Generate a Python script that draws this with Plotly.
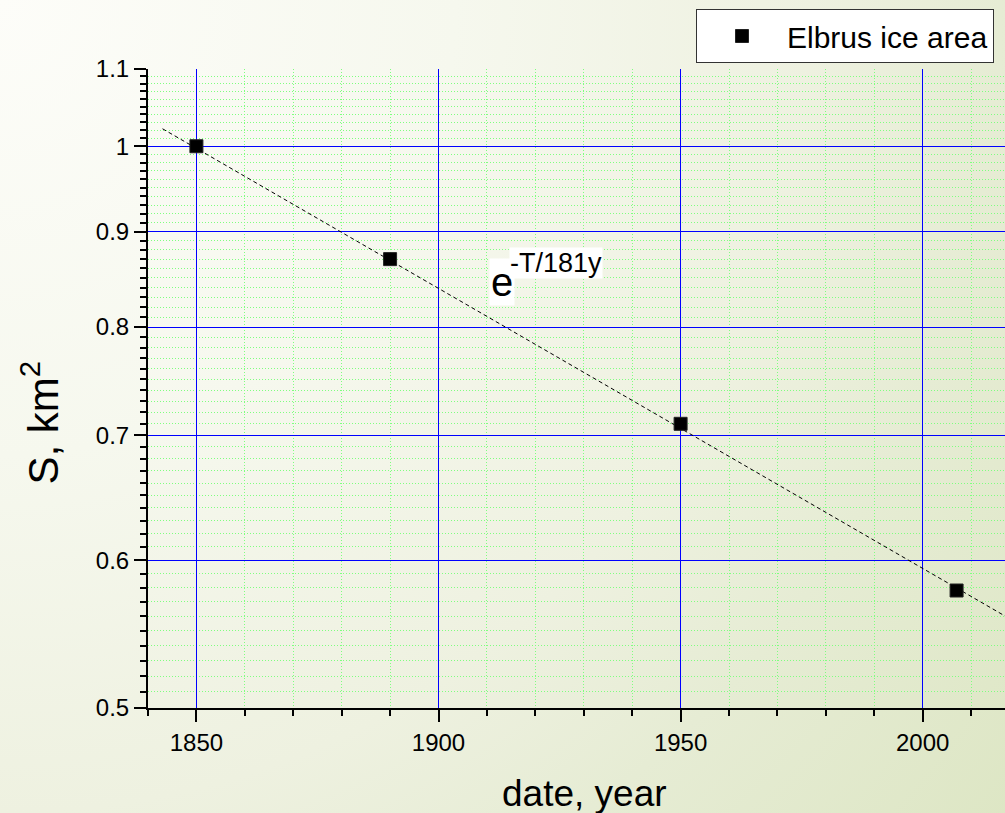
import base64
import plotly.graph_objects as go

# ---- data ----
years = [1850, 1890, 1950, 2007]
ice_area = [1.0, 0.87, 0.71, 0.578]
fit_years = [1843, 2017]
fit_area = [1.0218, 0.5601]
y_tick_vals = [0.5, 0.6, 0.7, 0.8, 0.9, 1.0, 1.1]
y_tick_text = ["0.5", "0.6", "0.7", "0.8", "0.9", "1", "1.1"]
x_tick_vals = [1850, 1900, 1950, 2000]
x_tick_text = ["1850", "1900", "1950", "2000"]
x_range = [1840, 2017]
y_range = [0.5, 1.1]

FONT = "Liberation Sans, Arial, sans-serif"
W, H = 1005, 813
L, R, T, B = 148, 0, 69, 105
pw, ph = W - L - R, H - T - B

def px(xp):
    return (xp - L) / pw

def py(yp):
    return (H - B - yp) / ph

svg = (
    f'<svg xmlns="http://www.w3.org/2000/svg" width="{W}" height="{H}">'
    '<defs><radialGradient id="g" cx="0" cy="0" r="1300" gradientUnits="userSpaceOnUse">'
    '<stop offset="0" stop-color="#fdfdf9"/>'
    '<stop offset="0.35" stop-color="#f6f8ee"/>'
    '<stop offset="0.625" stop-color="#eef1e0"/>'
    '<stop offset="0.77" stop-color="#e6ecd4"/>'
    '<stop offset="1" stop-color="#dde6c4"/>'
    '</radialGradient></defs>'
    f'<rect width="{W}" height="{H}" fill="url(#g)"/></svg>'
)
bg_src = "data:image/svg+xml;base64," + base64.b64encode(svg.encode()).decode()

tick_font = dict(size=24, family=FONT, color="black")

fig = go.Figure()
fig.add_trace(go.Scatter(
    x=fit_years, y=fit_area, mode="lines",
    line=dict(color="black", width=1, dash="4px,3px"),
    showlegend=False, hoverinfo="skip",
))
fig.add_trace(go.Scatter(
    x=years, y=ice_area, mode="markers", name="Elbrus ice area",
    marker=dict(symbol="square", size=13, color="black",
                line=dict(color="#222", width=1)),
))

fig.update_layout(
    width=W, height=H,
    margin=dict(l=L, r=R, t=T, b=B, autoexpand=False),
    paper_bgcolor="white",
    plot_bgcolor="rgba(0,0,0,0)",
    font=dict(family=FONT, color="black", size=14),
    images=[dict(source=bg_src, xref="paper", yref="paper",
                 x=-L / pw, y=1 + T / ph, sizex=W / pw, sizey=H / ph,
                 xanchor="left", yanchor="top", sizing="stretch", layer="below")],
    legend=dict(x=px(696), y=py(9), xanchor="left", yanchor="top",
                bgcolor="white", bordercolor="#333", borderwidth=1,
                font=dict(size=30, family=FONT, color="black"),
                itemwidth=80),
    annotations=[
        dict(text="e", xref="paper", yref="paper", x=px(501.5), y=py(282),
             xanchor="center", yanchor="middle", showarrow=False, bgcolor="white",
             borderpad=1, font=dict(size=40, family=FONT, color="black")),
        dict(text="-T/181y", xref="paper", yref="paper", x=px(555.5), y=py(263),
             xanchor="center", yanchor="middle", showarrow=False, bgcolor="white",
             borderpad=0, font=dict(size=27, family=FONT, color="black")),
        dict(text="date, year", xref="paper", yref="paper", x=px(584), y=py(793),
             xanchor="center", yanchor="middle", showarrow=False,
             font=dict(size=37, family=FONT, color="black")),
        dict(text="S, km<sup>2</sup>", xref="paper", yref="paper", x=px(40), y=py(422.5),
             xanchor="center", yanchor="middle", showarrow=False, textangle=-90,
             font=dict(size=42, family=FONT, color="black")),
    ],
)

fig.update_xaxes(
    range=x_range, tickmode="array", tickvals=x_tick_vals, ticktext=x_tick_text,
    ticks="outside", ticklen=12, tickwidth=2,
    tickcolor="black", showline=True, linewidth=2, linecolor="black",
    showgrid=True, gridcolor="#0000ff", gridwidth=1, zeroline=False,
    tickfont=tick_font,
    minor=dict(dtick=10, tick0=1840, ticks="outside", ticklen=6, tickwidth=2,
               tickcolor="black", showgrid=True, gridcolor="#80ff80",
               griddash="1px,2px", gridwidth=1),
)
fig.update_yaxes(
    type="log", range=[-0.30103, 0.041393], tickmode="array",
    tickvals=y_tick_vals, ticktext=y_tick_text,
    ticks="outside", ticklen=12, tickwidth=2, tickcolor="black",
    showline=True, linewidth=2, linecolor="black",
    showgrid=True, gridcolor="#0000ff", gridwidth=1, zeroline=False,
    tickfont=tick_font,
    minor=dict(dtick="L0.01", tick0=0.5, ticks="outside", ticklen=6, tickwidth=2,
               tickcolor="black", showgrid=True, gridcolor="#80ff80",
               griddash="1px,2px", gridwidth=1),
)

fig.write_html(
    "out.html",
    config={"displayModeBar": False},
    post_script="document.body.style.margin='0';document.body.style.padding='0';",
)
